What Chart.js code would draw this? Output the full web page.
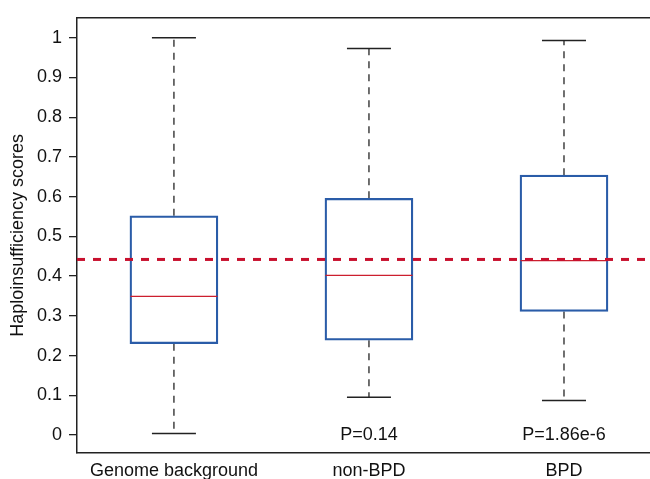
<!DOCTYPE html>
<html><head><meta charset="utf-8">
<style>html,body{margin:0;padding:0;background:#fff;overflow:hidden}#wrap{width:650px;height:479px;position:relative}</style>
</head><body><div id="wrap"><canvas id="c"></canvas></div>
<script src="https://cdn.jsdelivr.net/npm/chart.js@4/dist/chart.umd.min.js"></script>
<script>
// ---- data ----
const categories = ['Genome background', 'non-BPD', 'BPD'];
const whiskerMin = [0.004, 0.095, 0.087];
const q1 = [0.230, 0.239, 0.311];
const median = [0.349, 0.402, 0.439];
const q3 = [0.552, 0.596, 0.654];
const whiskerMax = [1.0, 0.973, 0.993];
const pLabels = ['', 'P=0.14', 'P=1.86e-6'];
const referenceLine = 0.442;
const yTicks = [0, 0.1, 0.2, 0.3, 0.4, 0.5, 0.6, 0.7, 0.8, 0.9, 1];
const yTickLabels = ['0', '0.1', '0.2', '0.3', '0.4', '0.5', '0.6', '0.7', '0.8', '0.9', '1'];

// ---- layout / style ----
const X_MIN = 0.503, X_MAX = 3.441;
const Y_MIN = -0.045, Y_MAX = 1.05;
const FONT = '"Liberation Sans", Arial, Helvetica, sans-serif';
const BLUE = '#2a5ca8', RED = '#cc1f2e', DARK = '#222';
const pos = categories.map((_, i) => i + 1);

const datasets = [];
datasets.push({
  type: 'line', data: [{x: X_MIN, y: referenceLine}, {x: X_MAX, y: referenceLine}],
  borderColor: '#c8102e', borderWidth: 3, borderDash: [8, 8], pointRadius: 0
});
datasets.push({
  type: 'line', showLine: false, data: pos.map((x, i) => ({x, y: median[i]})),
  pointStyle: 'line', pointRadius: 43.5, pointBorderColor: RED, pointBorderWidth: 1.4, pointHoverRadius: 43.5
});
datasets.push({
  type: 'line', showLine: false,
  data: pos.flatMap((x, i) => [{x, y: whiskerMax[i]}, {x, y: whiskerMin[i]}]),
  pointStyle: 'line', pointRadius: 22, pointBorderColor: DARK, pointBorderWidth: 1.5, pointHoverRadius: 22
});
datasets.push({
  type: 'bar', data: pos.map((x, i) => ({x, y: [q1[i], q3[i]]})),
  backgroundColor: 'rgba(0,0,0,0)', borderColor: BLUE, borderWidth: 1.6, borderSkipped: false, barThickness: 88
});
pos.forEach((x, i) => {
  datasets.push({type: 'line', data: [{x, y: q3[i]}, {x, y: whiskerMax[i]}],
    borderColor: '#333', borderWidth: 1.4, borderDash: [7, 6], pointRadius: 0});
  datasets.push({type: 'line', data: [{x, y: q1[i]}, {x, y: whiskerMin[i]}],
    borderColor: '#333', borderWidth: 1.4, borderDash: [7, 6], pointRadius: 0});
});

const pLabelPlugin = {
  id: 'pLabels',
  afterDatasetsDraw(chart) {
    const {ctx, scales: {x, y}} = chart;
    ctx.save();
    ctx.font = '18px ' + FONT;
    ctx.fillStyle = '#111';
    ctx.textAlign = 'center';
    ctx.textBaseline = 'middle';
    pLabels.forEach((t, i) => { if (t) ctx.fillText(t, x.getPixelForValue(pos[i]), y.getPixelForValue(0)); });
    ctx.restore();
  }
};

new Chart(document.getElementById('c'), {
  type: 'bar',
  data: {datasets},
  plugins: [pLabelPlugin],
  options: {
    responsive: true, maintainAspectRatio: false, animation: false,
    layout: {autoPadding: false, padding: {top: 13, left: 0, right: 0, bottom: 0}},
    plugins: {legend: {display: false}, tooltip: {enabled: false}},
    events: [],
    scales: {
      x: {
        type: 'linear', position: 'bottom', min: X_MIN, max: X_MAX, offset: false,
        grid: {display: false, drawTicks: false},
        border: {display: true, color: DARK, width: 1.5},
        afterBuildTicks: s => { s.ticks = pos.map(v => ({value: v})); },
        afterFit: s => { s.height = 26; },
        ticks: {callback: v => categories[Math.round(v) - 1], autoSkip: false, maxRotation: 0, minRotation: 0,
          padding: 7, color: '#111', font: {family: FONT, size: 18}}
      },
      x2: {
        type: 'linear', position: 'top', min: X_MIN, max: X_MAX,
        grid: {display: false, drawTicks: false},
        border: {display: true, color: DARK, width: 1.5},
        ticks: {display: false},
        afterFit: s => { s.height = 0; }
      },
      y: {
        type: 'linear', position: 'left', min: Y_MIN, max: Y_MAX,
        afterBuildTicks: s => { s.ticks = yTicks.map(v => ({value: v})); },
        afterFit: s => { s.width = 77; },
        grid: {display: true, drawOnChartArea: false, drawTicks: true, tickLength: 8, color: DARK, lineWidth: 1.3},
        border: {display: true, color: DARK, width: 1.5},
        ticks: {callback: (v) => yTickLabels[yTicks.indexOf(v)] ?? '', padding: 7, color: '#111',
          font: {family: FONT, size: 18}},
        title: {display: true, text: 'Haploinsufficiency scores', color: '#111',
          font: {family: FONT, size: 18}, padding: {top: 7, bottom: 0}}
      }
    }
  }
});
</script>
</body></html>
